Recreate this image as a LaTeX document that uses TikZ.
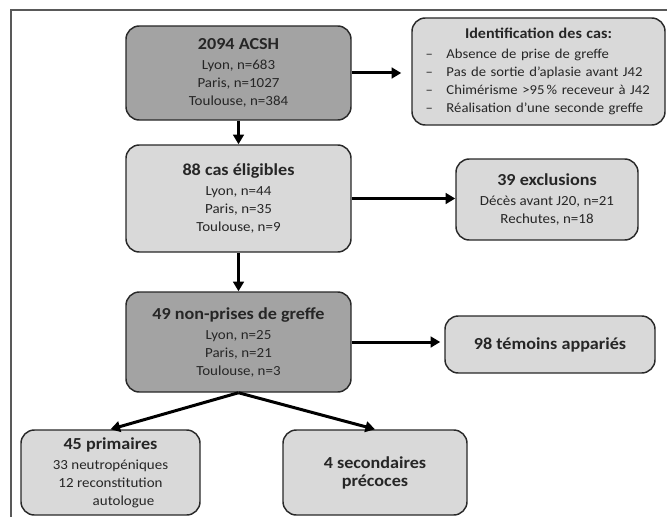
\documentclass[tikz,border=0pt]{standalone}
\usepackage{fontspec}
\setmainfont[FakeStretch=1.08]{Carlito}
\usetikzlibrary{arrows.meta}
\newlength\px
\setlength\px{0.75pt}
\definecolor{boxdark}{RGB}{163,163,163}
\definecolor{boxlight}{RGB}{217,217,217}
\definecolor{edge}{RGB}{40,40,40}
\newcommand\hd[1]{{\fontsize{12.6}{13.5}\selectfont\bfseries #1}}

\begin{document}
\begin{tikzpicture}[x=0.75pt, y=-0.75pt,
    box/.style={draw=edge, line width=1.1pt, rounded corners=10pt, align=center,
        inner sep=0pt, text=black!85, font=\fontsize{10.4}{13.5}\selectfont},
    darkbox/.style={box, fill=boxdark},
    lightbox/.style={box, fill=boxlight},
    arrow/.style={line width=2.25pt, -{Triangle[length=7.2pt, width=8pt]}}]
    \useasboundingbox (0,0) rectangle (667,517);
    \draw[gray!70!black, line width=1.1pt] (11,517) -- (11,10) -- (667,10);

    % left column
    \node[darkbox, minimum width=225\px, minimum height=94\px] (acsh) at (238.5,73)
        {\hd{2094 ACSH}\\[1.5pt] Lyon, n=683\\ Paris, n=1027\\ Toulouse, n=384};
    \node[lightbox, minimum width=225\px, minimum height=107\px] (elig) at (238.5,198.5)
        {\hd{88 cas éligibles}\\[1.5pt] Lyon, n=44\\ Paris, n=35\\ Toulouse, n=9};
    \node[darkbox, minimum width=225\px, minimum height=100\px] (nonprise) at (238.5,342)
        {\hd{49 non-prises de greffe}\\[1.5pt] Lyon, n=25\\ Paris, n=21\\ Toulouse, n=3};
    \node[lightbox, minimum width=179\px, minimum height=85\px] (prim) at (110.5,472.5)
        {\hd{45 primaires}\\[1.5pt] 33 neutropéniques\\ 12 reconstitution\\ \hspace*{26\px}autologue};
    \node[lightbox, minimum width=184\px, minimum height=85\px] (second) at (375,472.5)
        {\hd{4 secondaires}\\ \hd{précoces}};

    % right column
    \node[lightbox, minimum width=253\px, minimum height=107\px, align=left,
        text width=226\px, font=\fontsize{10.2}{13.5}\selectfont] (ident) at (538.5,71.5)
        {\makebox[226\px]{\fontsize{11.2}{13.5}\selectfont\bfseries Identification des cas:}\\[1pt]
         \makebox[21\px][l]{--}Absence de prise de greffe\\
         \makebox[21\px][l]{--}Pas de sortie d’aplasie avant J42\\
         \makebox[21\px][l]{--}Chimérisme >95\,\% receveur à J42\\
         \makebox[21\px][l]{--}Réalisation d’une seconde greffe};
    \node[lightbox, minimum width=182\px, minimum height=81\px] (excl) at (547,199.5)
        {\hd{39 exclusions}\\[1.5pt] Décès avant J20, n=21\\ Rechutes, n=18};
    \node[lightbox, minimum width=210\px, minimum height=57\px] (temoins) at (550,344.5)
        {\hd{98 témoins appariés}};

    \draw[arrow, shorten >=7.5pt] (acsh.east) -- (acsh.east -| ident.west);
    \draw[arrow] (acsh) -- (elig);
    \draw[arrow] (elig.east) -- (elig.east -| excl.west);
    \draw[arrow] (elig) -- (nonprise);
    \draw[arrow, shorten >=3pt] (nonprise.east) -- (nonprise.east -| temoins.west);
    \draw[arrow] (nonprise.south) -- (prim.north);
    \draw[arrow] (nonprise.south) -- (second.north);
\end{tikzpicture}
\end{document}
